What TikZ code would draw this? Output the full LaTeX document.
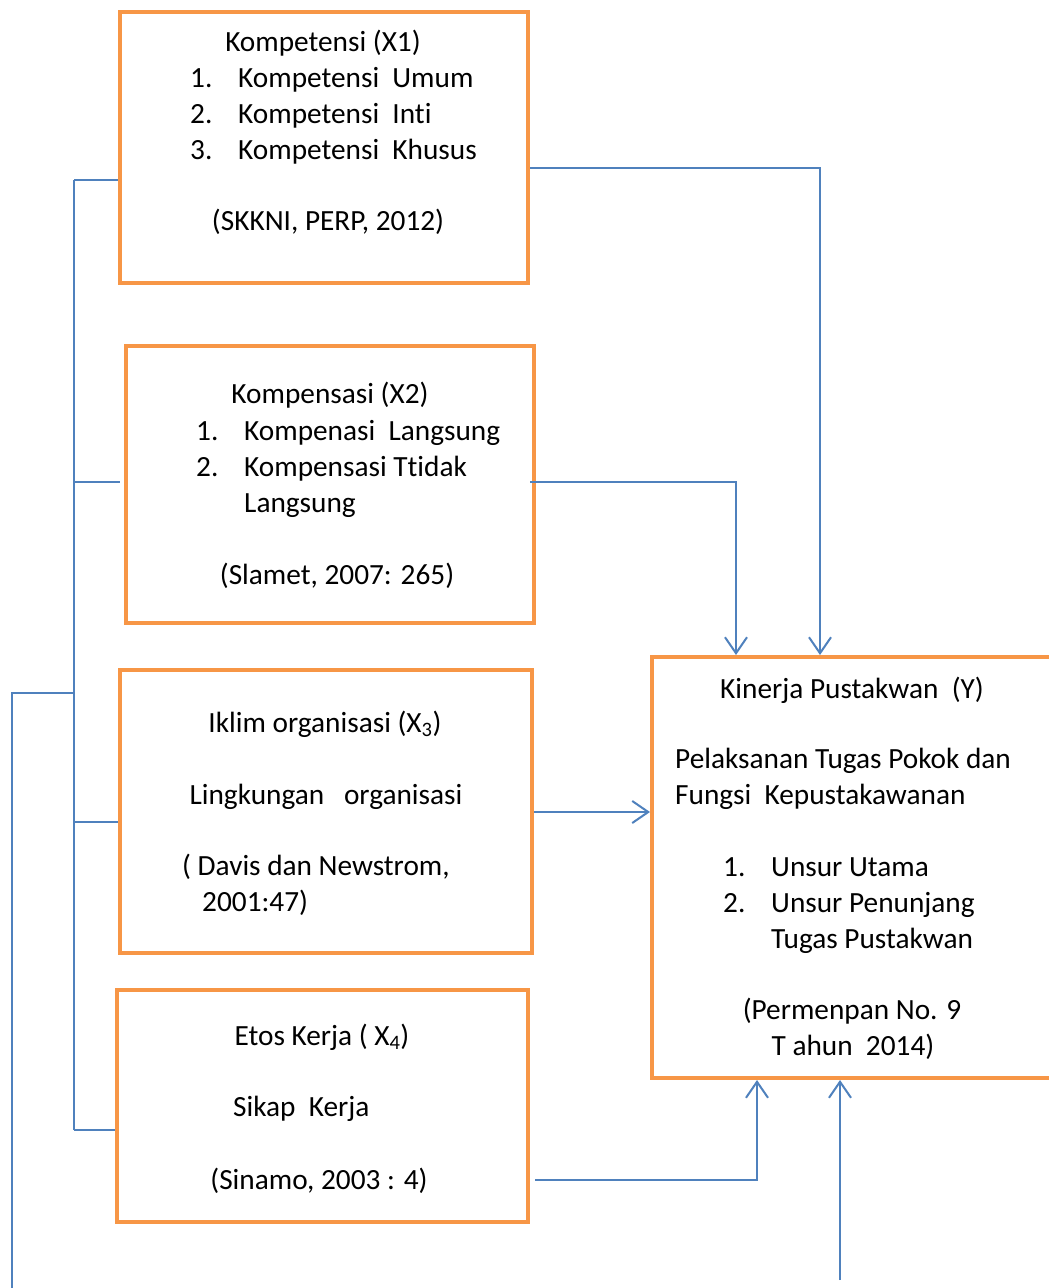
\documentclass[tikz,border=0pt]{standalone}
\usepackage{fontspec}
\setmainfont{Carlito}[Ligatures=NoCommon]
\usetikzlibrary{arrows.meta}
\definecolor{boxorange}{HTML}{F79646}
\definecolor{lineblue}{HTML}{4F81BD}
\tikzset{
  box/.style={draw=boxorange, line width=4pt, rectangle, inner sep=0pt},
  conn/.style={draw=lineblue, line width=2pt},
  arr/.style={-{Straight Barb[length=16pt,width=22pt,line width=2pt]}},
  txt/.style={anchor=base, inner sep=0pt, font=\fontsize{29.3}{36}\selectfont},
  ltxt/.style={txt, anchor=base west}
}
\begin{document}
\begin{tikzpicture}[x=1pt,y=-1pt]
\clip (0,0) rectangle (1049,1288);
\fill[white] (0,0) rectangle (1049,1288);
% boxes
\node[box, minimum width=408, minimum height=271] (b1) at (324,147.5) {};
\node[box, minimum width=408, minimum height=277] (b2) at (330,484.5) {};
\node[box, minimum width=412, minimum height=283] (b3) at (326,811.5) {};
\node[box, minimum width=411, minimum height=232] (b4) at (322.5,1106) {};
\node[box, minimum width=408, minimum height=421] (Y) at (856,867.5) {};
% box 1 text
\node[txt] (t1a) at (323,51) {Kompetensi (X1)};
\node[ltxt] (t1b) at (190,87) {1.};
\node[ltxt] (t1c) at (238,87) {Kompetensi~~Umum};
\node[ltxt] (t1d) at (190,123) {2.};
\node[ltxt] (t1e) at (238,123) {Kompetensi~~Inti};
\node[ltxt] (t1f) at (190,159) {3.};
\node[ltxt] (t1g) at (238,159) {Kompetensi~~Khusus};
\node[txt] (t1h) at (328,230) {(SKKNI, PERP, 2012)};
% box 2 text
\node[txt] (t2a) at (330,403) {Kompensasi (X2)};
\node[ltxt] (t2b) at (196,440) {1.};
\node[ltxt] (t2c) at (244,440) {Kompenasi~~Langsung};
\node[ltxt] (t2d) at (196,476) {2.};
\node[ltxt] (t2e) at (244,476) {Kompensasi Ttidak};
\node[ltxt] (t2f) at (244,512) {Langsung};
\node[txt] (t2g) at (337,584) {(Slamet, 2007: 265)};
% box 3 text
\node[txt] (t3a) at (325,732) {Iklim organisasi (X\textsubscript{3})};
\node[txt] (t3b) at (326,804) {Lingkungan~~~organisasi};
\node[ltxt] (t3c) at (182,875) {( Davis dan Newstrom,};
\node[ltxt] (t3d) at (202,911) {2001:47)};
% box 4 text
\node[txt] (t4a) at (322,1045) {Etos Kerja ( X\textsubscript{4})};
\node[ltxt] (t4b) at (233,1116) {Sikap~~Kerja};
\node[txt] (t4c) at (319,1189) {(Sinamo, 2003 : 4)};
% box Y text
\node[txt] (tya) at (852,698) {Kinerja Pustakwan~~(Y)};
\node[ltxt] (tyb) at (675,768) {Pelaksanan Tugas Pokok dan};
\node[ltxt] (tyc) at (675,804) {Fungsi~~Kepustakawanan};
\node[ltxt] (tyd) at (723,876) {1.};
\node[ltxt] (tye) at (771,876) {Unsur Utama};
\node[ltxt] (tyf) at (723,912) {2.};
\node[ltxt] (tyg) at (771,912) {Unsur Penunjang};
\node[ltxt] (tyh) at (771,948) {Tugas Pustakwan};
\node[txt] (tyi) at (852,1019) {(Permenpan No. 9};
\node[txt] (tyj) at (853,1055) {T ahun~~2014)};
% left bus
\coordinate (busTop) at (74,180);
\coordinate (bus2) at (74,482);
\coordinate (busJ) at (74,693);
\coordinate (bus3) at (74,822);
\coordinate (busBot) at (74,1130);
\coordinate (farTop) at (12,693);
\coordinate (farBot) at (12,1290);
\draw[conn] (busTop) -- (busBot);
\draw[conn] (busTop) -- (b1.west |- busTop);
\draw[conn] (bus2) -- (120,482);
\draw[conn] (bus3) -- (b3.west |- bus3);
\draw[conn] (busBot) -- (b4.west |- busBot);
\draw[conn] (busJ) -- (farTop) -- (farBot);
% arrows into Y
\draw[conn,arr] (b1.east |- 0,168) -| (Y.north -| 820,0);
\draw[conn,arr] (530,482) -| (Y.north -| 736,0);
\draw[conn,arr] (b3.east |- 0,812) -- (Y.west |- 0,812);
\draw[conn,arr] (535,1180) -| (Y.south -| 757,0);
\coordinate (bottomIn) at (840,1280);
\draw[conn,arr] (bottomIn) -- (Y.south -| bottomIn);
\end{tikzpicture}
\end{document}
